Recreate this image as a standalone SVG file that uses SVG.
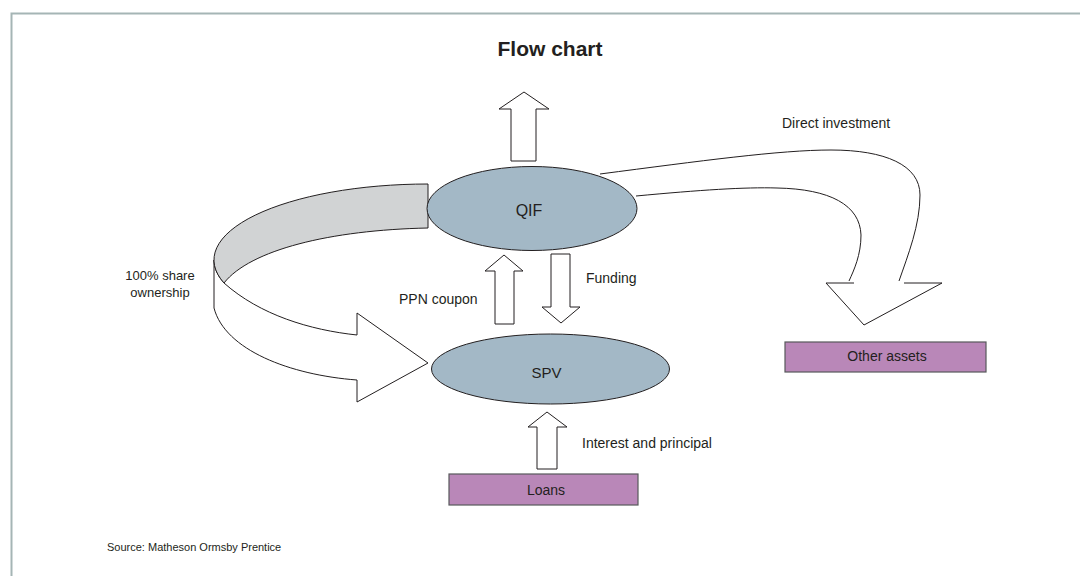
<svg xmlns="http://www.w3.org/2000/svg" width="1080" height="576" viewBox="0 0 1080 576">
  <style>
    text { font-family: "Liberation Sans", Arial, sans-serif; fill: #231f20; }
    .title { font-size: 21px; font-weight: bold; }
    .label { font-size: 14px; }
    .node-label { font-size: 16px; }
    .small { font-size: 11px; }
    .ellipse { fill: #a3b8c6; stroke: #231f20; stroke-width: 1; }
    .box { fill: #b987b8; stroke: #58595b; stroke-width: 1.2; }
    .arrow { fill: #ffffff; stroke: #231f20; stroke-width: 1; stroke-linejoin: miter; }
    .line { fill: none; stroke: #231f20; stroke-width: 1; }
  </style>

  <rect width="1080" height="576" fill="#ffffff"/>
  <!-- frame -->
  <path d="M11.5,576 V13.5 H1080" fill="none" stroke="#a5b5b5" stroke-width="2"/>

  <text class="title" x="550" y="55.5" text-anchor="middle">Flow chart</text>

  <g id="connectors">
    <!-- ownership ribbon: top face (grey) and side face (white) -->
    <path class="arrow" d="M224,283 C260,315 310,330 357,335 L357,313 L428,363 L357,402 L357,380 C290,375 225,350 214,308 L214,260 A214,76 0 0 0 224,283 Z"/>
    <path d="M428,184 A214,76 0 0 0 224,283 C250,250 330,230 428,228 Z" fill="#d1d3d4" stroke="#231f20" stroke-width="1"/>

    <!-- QIF outflow -->
    <polygon class="arrow" points="511,161 511,109 499,109 524,92 549,109 536,109 536,161"/>
    <!-- PPN coupon -->
    <polygon class="arrow" points="495,324 495,271 485,271 504,255 523,271 514,271 514,324"/>
    <!-- Funding -->
    <polygon class="arrow" points="551,254 570,254 570,307 580,307 561,323 542,307 551,307"/>
    <!-- Interest and principal -->
    <polygon class="arrow" points="537,469 537,427 528,427 547,412 567,427 557,427 557,469"/>

    <!-- Direct investment -->
    <path class="line" d="M600,174 C700,161 780,150 831,150 C885,150 920,165 920,195 C920,225 908,255 899,281"/>
    <path class="line" d="M636,196 C700,190 745,187 777,188 C830,189 860,205 861,235 C861,255 854,270 849,281"/>
    <path class="arrow" d="M854,283 L826,283 L864,325 L942,283 L904,283"/>
  </g>

  <g id="qif">
    <ellipse class="ellipse" cx="532" cy="208.5" rx="105" ry="42"/>
    <text class="node-label" x="529" y="215.5" text-anchor="middle">QIF</text>
  </g>

  <g id="spv">
    <ellipse class="ellipse" cx="550.5" cy="369" rx="119" ry="35"/>
    <text class="node-label" x="546.5" y="377.5" text-anchor="middle" style="font-size:15px">SPV</text>
  </g>

  <g id="other-assets">
    <rect class="box" x="785" y="342" width="201" height="30"/>
    <text class="label" x="887" y="360.5" text-anchor="middle">Other assets</text>
  </g>

  <g id="loans">
    <rect class="box" x="449" y="474" width="189" height="31"/>
    <text class="label" x="546" y="495" text-anchor="middle">Loans</text>
  </g>

  <g id="labels">
    <text class="label" x="160" y="280" text-anchor="middle" style="font-size:13px">100% share</text>
    <text class="label" x="160" y="297" text-anchor="middle" style="font-size:13px">ownership</text>
    <text class="label" x="399" y="304">PPN coupon</text>
    <text class="label" x="586" y="283">Funding</text>
    <text class="label" x="782" y="128">Direct investment</text>
    <text class="label" x="582" y="447.5">Interest and principal</text>
    <text class="small" x="107" y="551">Source: Matheson Ormsby Prentice</text>
  </g>
</svg>
